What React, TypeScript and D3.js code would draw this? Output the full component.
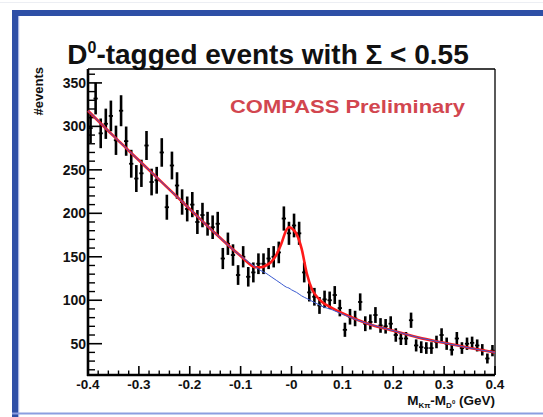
import React from "react";
import * as d3 from "d3";

// ---- data ----
const binLow = -0.4;
const binWidth = 0.01;
const counts: number[] = [
  298, 332, 292, 303, 312, 284, 318, 283, 257, 240,
  246, 278, 236, 238, 270, 207, 255, 232, 213, 205,
  210, 190, 198, 188, 184, 188, 148, 165, 152, 129,
  150, 127, 132, 142, 142, 148, 150, 155, 194, 177,
  186, 177, 132, 109, 104, 94, 101, 100, 106, 91,
  66, 81, 79, 98, 73, 75, 83, 71, 70, 73,
  60, 56, 56, 77, 48, 46, 45, 45, 52, 60,
  50, 43, 56, 45, 50, 51, 48, 43, 33, 42,
];

const fitX: number[] = [
  -0.4, -0.35, -0.3, -0.25, -0.2, -0.15, -0.1, -0.07, -0.06, -0.05, -0.04, -0.03,
  -0.02, -0.01, -0.005, 0.0, 0.01, 0.02, 0.03, 0.04, 0.05, 0.06, 0.08, 0.1,
  0.15, 0.2, 0.25, 0.3, 0.35, 0.4,
];
const fitBackground: number[] = [
  318, 289, 261, 233, 205, 177, 151, 138, 134, 131, 127, 123,
  119, 115, 114, 112, 109, 105, 102, 99, 96, 93, 89, 84,
  73, 65, 57, 51, 45, 40,
];
const fitTotal: number[] = [
  318, 289, 261, 233, 205, 177, 151, 138, 138, 140, 144, 152,
  165, 181, 184, 183, 176, 159, 131, 113, 104, 98, 91, 85,
  73, 65, 57, 51, 45, 40,
];

const yTickValues: number[] = [50, 100, 150, 200, 250, 300, 350];
const xTickValues: number[] = [-0.4, -0.3, -0.2, -0.1, 0, 0.1, 0.2, 0.3, 0.4];
const xTickLabels: string[] = ["-0.4", "-0.3", "-0.2", "-0.1", "-0", "0.1", "0.2", "0.3", "0.4"];

const W = 543;
const H = 417;
const FONT = "'Liberation Sans', Arial, Helvetica, sans-serif";

export default function App() {
  const left = 88, right = 495, top = 69, bottom = 375;
  const x = d3.scaleLinear().domain([-0.4, 0.4]).range([left, right]);
  const y = d3.scaleLinear().domain([14, 366]).range([bottom, top]);

  const minorY = d3.range(20, 366, 10).filter((v) => v % 50 !== 0);
  const minorX = d3.range(-0.38, 0.4, 0.02).filter((v) => Math.abs(Math.round(v * 10) - v * 10) > 0.01);

  const line = d3
    .line<number>()
    .x((_, i) => x(fitX[i]))
    .y((d) => y(d))
    .curve(d3.curveMonotoneX);

  return (
    <svg
      width={W}
      height={H}
      style={{ position: "absolute", left: 0, top: 0, background: "#fff" }}
      fontFamily={FONT}
    >
      {/* page frame */}
      <rect x={0} y={2} width={W} height={1} fill="#eceef3" />
      <rect x={12} y={10} width={W - 12} height={6} fill="#2e4fa6" />
      <rect x={12} y={10} width={6} height={H - 10} fill="#2e4fa6" />
      <rect x={18} y={16} width={1.2} height={H - 16} fill="#a8b6e2" />
      <rect x={12} y={412.5} width={W - 12} height={2} fill="#8c9ee0" />

      {/* title */}
      <text x={268} y={64} textAnchor="middle" fontSize={28} fontWeight="bold" fill="#111">
        D<tspan dy={-11} fontSize={16}>0</tspan>
        <tspan dy={11}>-tagged events with Σ &lt; 0.55</tspan>
      </text>

      {/* plot frame */}
      <line x1={left} x2={right} y1={top} y2={top} stroke="#000" strokeWidth={1.3} />
      <line x1={right} x2={right} y1={top} y2={bottom} stroke="#000" strokeWidth={1.3} />

      {/* y ticks */}
      {yTickValues.map((v) => (
        <g key={"yt" + v}>
          <line x1={left} x2={left + 14} y1={y(v)} y2={y(v)} stroke="#000" strokeWidth={1.6} />
          <text x={left - 2} y={y(v) + 5} textAnchor="end" fontSize={14} fontWeight="bold" fill="#111">
            {v}
          </text>
        </g>
      ))}
      {minorY.map((v) => (
        <line key={"ym" + v} x1={left} x2={left + 7} y1={y(v)} y2={y(v)} stroke="#000" strokeWidth={1.4} />
      ))}

      {/* x ticks */}
      {xTickValues.map((v, i) => (
        <g key={"xt" + v}>
          <line x1={x(v)} x2={x(v)} y1={bottom} y2={bottom - 9} stroke="#000" strokeWidth={1.6} />
          <text x={x(v)} y={bottom + 14} textAnchor="middle" fontSize={13.5} fontWeight="bold" fill="#111">
            {xTickLabels[i]}
          </text>
        </g>
      ))}
      {minorX.map((v) => (
        <line key={"xm" + v} x1={x(v)} x2={x(v)} y1={bottom} y2={bottom - 4.5} stroke="#000" strokeWidth={1.4} />
      ))}

      {/* axes */}
      <line x1={left} x2={left} y1={top} y2={bottom + 1} stroke="#000" strokeWidth={2.6} />
      <line x1={left - 1} x2={right} y1={bottom} y2={bottom} stroke="#000" strokeWidth={2.6} />

      {/* axis titles */}
      <text
        transform={`translate(43,67) rotate(-90)`}
        textAnchor="end"
        fontSize={13}
        fontWeight="bold"
        fill="#111"
      >
        #events
      </text>
      <text x={495} y={405} textAnchor="end" fontSize={13.5} fontWeight="bold" fill="#111">
        M<tspan dy={3} fontSize={8}>Kπ</tspan>
        <tspan dy={-3}>-M</tspan>
        <tspan dy={3} fontSize={8}>D</tspan>
        <tspan dy={-4} fontSize={6}>0</tspan>
        <tspan dy={1}> (GeV)</tspan>
      </text>

      {/* COMPASS label */}
      <text
        x={230}
        y={113}
        fontSize={17.5}
        fontWeight="bold"
        fill="#d2464f"
        textLength={235}
        lengthAdjust="spacingAndGlyphs"
      >
        COMPASS Preliminary
      </text>

      {/* data points */}
      {counts.map((c, i) => {
        const cx = x(binLow + (i + 0.5) * binWidth);
        const err = Math.sqrt(c);
        const hw = (x(binWidth) - x(0)) * 0.42;
        return (
          <g key={"p" + i}>
            <line x1={cx} x2={cx} y1={y(c - err)} y2={y(Math.min(c + err, 366))} stroke="#000" strokeWidth={2.6} />
            <line x1={cx - hw} x2={cx + hw} y1={y(c)} y2={y(c)} stroke="#000" strokeWidth={1.8} />
          </g>
        );
      })}

      {/* fits */}
      <path d={line(fitTotal) || ""} fill="none" stroke="#ff1a1a" strokeWidth={2.6} />
      <path d={line(fitBackground) || ""} fill="none" stroke="#3a5ad0" strokeWidth={1} />
    </svg>
  );
}
